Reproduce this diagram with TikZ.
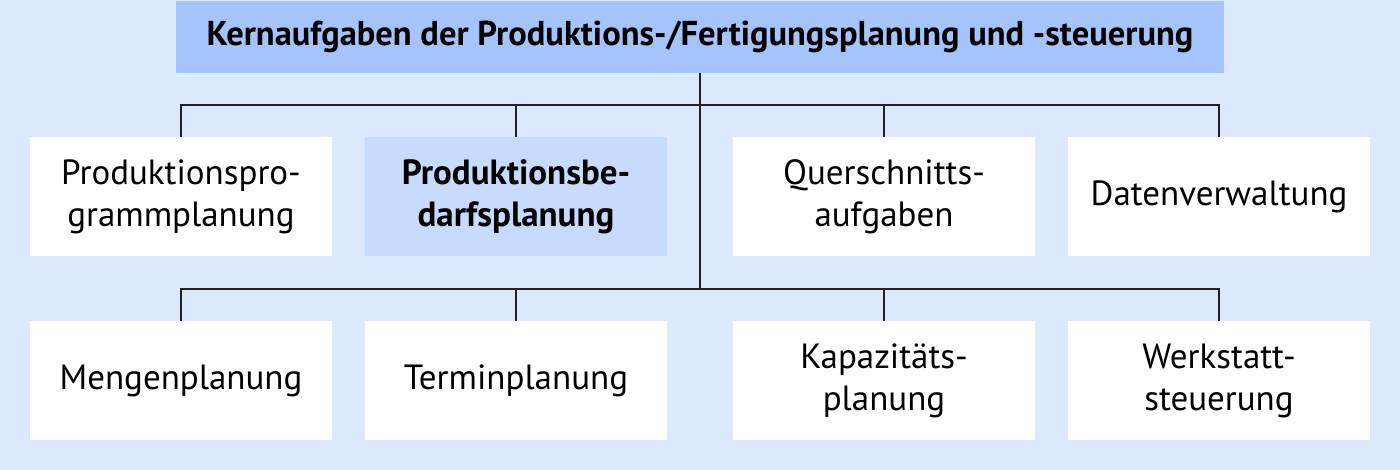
\documentclass[tikz,border=0pt]{standalone}
\usepackage{fontspec}
\setmainfont{PT Sans}
\definecolor{bgblue}{HTML}{DCE8FD}
\definecolor{topblue}{HTML}{A6C4FC}
\definecolor{hiblue}{HTML}{C6DBFD}
\definecolor{linec}{HTML}{222222}
\tikzset{
  box/.style={fill=white, draw=none, minimum width=302pt, minimum height=119pt, inner sep=0pt, align=center, font=\fontsize{35}{42}\selectfont},
  hibox/.style={box, fill=hiblue, font=\fontsize{35}{42}\selectfont\bfseries},
  conn/.style={draw=linec, line width=1.3pt}
}
\begin{document}
\begin{tikzpicture}[x=1pt,y=-1pt]
\fill[bgblue] (0,0) rectangle (1400,470);
\useasboundingbox (0,0) rectangle (1400,470);
\node[fill=topblue, minimum width=1048pt, minimum height=72pt, inner sep=0pt, font=\fontsize{34.5}{40}\selectfont\bfseries] (top) at (700,37) {Kernaufgaben der Produktions-/Fertigungsplanung und -steuerung};
\node[box] (a1) at (181,196.5) {Produktionspro-\\grammplanung};
\node[hibox] (a2) at (516,196.5) {Produktionsbe-\\darfsplanung};
\node[box] (a3) at (884,196.5) {Querschnitts-\\aufgaben};
\node[box] (a4) at (1219,196.5) {Datenverwaltung};
\node[box] (b1) at (181,380.5) {Mengenplanung};
\node[box] (b2) at (516,380.5) {Terminplanung};
\node[box] (b3) at (884,380.5) {Kapazitäts-\\planung};
\node[box] (b4) at (1219,380.5) {Werkstatt-\\steuerung};
\coordinate (h1) at (700,105);
\coordinate (h2) at (700,289);
\draw[conn] (top.south) -- (h2);
\draw[conn] (a1.north) |- (h1) -| (a4.north);
\draw[conn] (a2.north) |- (h1) -| (a3.north);
\draw[conn] (b1.north) |- (h2) -| (b4.north);
\draw[conn] (b2.north) |- (h2) -| (b3.north);
\end{tikzpicture}
\end{document}
